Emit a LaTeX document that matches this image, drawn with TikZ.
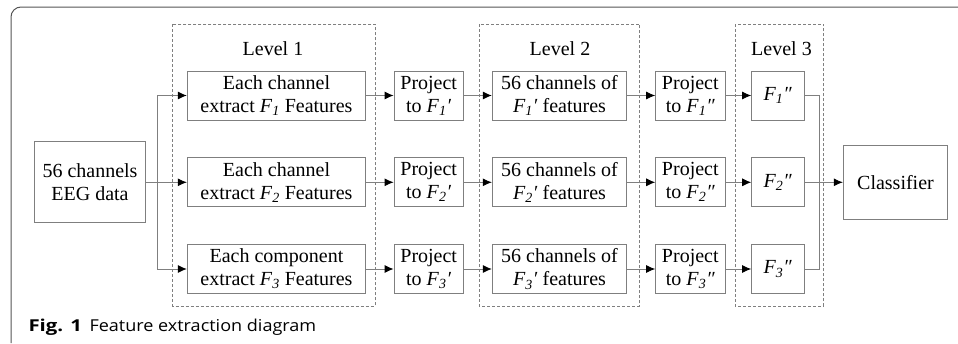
\documentclass[tikz,border=0pt]{standalone}
\usepackage{fontspec}
\usepackage{graphicx}
\setmainfont{Liberation Serif}
\newfontfamily\capfont{Open Sans}
\usetikzlibrary{arrows.meta}
\newcommand{\Fi}[1]{\textit{F}\textsubscript{\textit{#1}}}
\newcommand{\pr}{\textit{\char"2032}}
\newcommand{\dpr}{\textit{\char"2033}}
\definecolor{lc}{HTML}{7F7F7F}
\definecolor{fc}{HTML}{555555}
\begin{document}
\begin{tikzpicture}[x=1pt,y=-1pt,
  every node/.style={font=\fontsize{20}{23}\selectfont},
  blk/.style={draw=lc,line width=0.9pt,align=center,inner sep=0pt,minimum height=49pt},
  lvl/.style={draw=lc,line width=0.8pt,dash pattern=on 3pt off 2pt},
  arr/.style={draw=lc,line width=0.9pt,-{Latex[length=9pt,width=8pt,color=black]}},
  ln/.style={draw=lc,line width=0.9pt},
  captxt/.style={anchor=base west,inner sep=0pt,font=\capfont\fontsize{16.4}{19}\selectfont}]
\useasboundingbox (0,0) rectangle (958,343);
% outer frame
\draw[fc,line width=1pt,rounded corners=10pt] (11,343) -- (11,7) -- (958,7);
% level frames
\draw[lvl] (172.7,24) rectangle (375,306);
\draw[lvl] (479,24) rectangle (639.3,306);
\draw[lvl] (735,24) rectangle (823.3,306);
\node (L1) at (273,49) {Level 1};
\node (L2) at (560,49) {Level 2};
\node (L3) at (781.5,49) {Level 3};
% input
\node[blk,minimum width=111.4pt,minimum height=81pt] (eeg) at (90,182.3) {56 channels\\EEG data};
% rows
\node[blk,minimum width=178.4pt] (a1) at (276.5,95.5) {Each channel\\extract \Fi{1} Features};
\node[blk,minimum width=178.4pt] (a2) at (276.5,182.3) {Each channel\\extract \Fi{2} Features};
\node[blk,minimum width=178.4pt] (a3) at (276.5,269) {Each component\\extract \Fi{3} Features};
\node[blk,minimum width=69.3pt] (p1) at (428.7,95.5) {Project\\to \Fi{1}\pr};
\node[blk,minimum width=69.3pt] (p2) at (428.7,182.3) {Project\\to \Fi{2}\pr};
\node[blk,minimum width=69.3pt] (p3) at (428.7,269) {Project\\to \Fi{3}\pr};
\node[blk,minimum width=134.4pt] (c1) at (559.5,95.5) {56 channels of\\\Fi{1}\pr\ features};
\node[blk,minimum width=134.4pt] (c2) at (559.5,182.3) {56 channels of\\\Fi{2}\pr\ features};
\node[blk,minimum width=134.4pt] (c3) at (559.5,269) {56 channels of\\\Fi{3}\pr\ features};
\node[blk,minimum width=69.3pt] (q1) at (690.3,95.5) {Project\\to \Fi{1}\dpr};
\node[blk,minimum width=69.3pt] (q2) at (690.3,182.3) {Project\\to \Fi{2}\dpr};
\node[blk,minimum width=69.3pt] (q3) at (690.3,269) {Project\\to \Fi{3}\dpr};
\node[blk,minimum width=52.3pt] (f1) at (777.8,95.5) {\Fi{1}\dpr};
\node[blk,minimum width=52.3pt] (f2) at (777.8,182.3) {\Fi{2}\dpr};
\node[blk,minimum width=52.3pt] (f3) at (777.8,269) {\Fi{3}\dpr};
\node[blk,minimum width=104.4pt,minimum height=74pt] (cls) at (895.5,182.3) {Classifier};
% connectors
\coordinate (br) at (157.7,182.3);
\coordinate (mg) at (819,182.3);
\draw[arr] (eeg.east) -- (a2.west);
\draw[arr] (br) |- (a1.west);
\draw[arr] (br) |- (a3.west);
\foreach \i in {1,2,3}{
  \draw[arr] (a\i.east) -- (p\i.west);
  \draw[arr] (p\i.east) -- (c\i.west);
  \draw[arr] (c\i.east) -- (q\i.west);
  \draw[arr] (q\i.east) -- (f\i.west);
}
\draw[ln] (f1.east) -| (mg);
\draw[ln] (f3.east) -| (mg);
\draw[arr] (f2.east) -- (cls.west);
% caption
\node[captxt] (cap1) at (28.3,331) {\resizebox{53.4pt}{\height}{\textbf{Fig. 1}}};
\node[captxt] (cap2) at (89.3,331) {\resizebox{226.7pt}{\height}{Feature extraction diagram}};
\end{tikzpicture}
\end{document}
